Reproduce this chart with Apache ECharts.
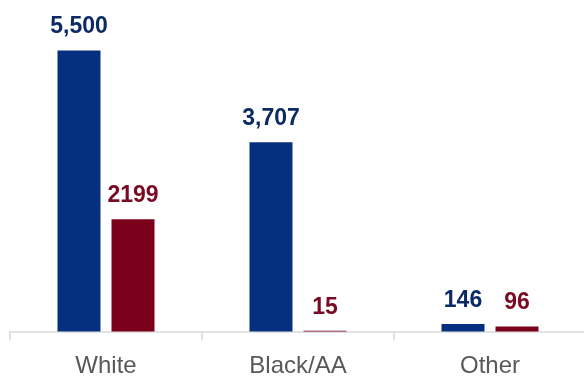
<!DOCTYPE html>
<html><head><meta charset="utf-8">
<script src="https://cdn.jsdelivr.net/npm/echarts@6/dist/echarts.min.js"></script>
<style>html,body{margin:0;padding:0;background:#fff}#c{width:584px;height:377px}</style>
</head><body><div id="c"></div>
<script>
const categories = ['White', 'Black/AA', 'Other'];
const seriesA = [5500, 3707, 146];
const seriesB = [2199, 15, 96];
const labelsA = ['5,500', '3,707', '146'];
const labelsB = ['2199', '15', '96'];

const chart = echarts.init(document.getElementById('c'), null, {renderer: 'canvas'});
const labelFont = {fontFamily: 'Liberation Sans, Arial, sans-serif', fontWeight: 'bold', fontSize: 23};
chart.setOption({
  animation: false,
  grid: {left: 10, right: -2, top: 25, bottom: 45.5, containLabel: false, outerBoundsMode: 'none'},
  xAxis: {
    type: 'category', data: categories,
    axisLine: {lineStyle: {color: '#d9d9d9', width: 1.5}},
    axisTick: {show: true, length: 9, lineStyle: {color: '#d9d9d9', width: 1.5}},
    axisLabel: {color: '#595959', fontSize: 24, fontFamily: 'Liberation Sans, Arial, sans-serif', margin: 23}
  },
  yAxis: {type: 'value', min: 0, max: 6000, show: false, splitLine: {show: false}},
  series: [
    {type: 'bar', data: seriesA, barWidth: 43, barGap: '25.6%',
     itemStyle: {color: '#06307f'},
     label: Object.assign({show: true, position: 'top', distance: 12, color: '#0b2a66',
       formatter: p => labelsA[p.dataIndex]}, labelFont)},
    {type: 'bar', data: seriesB, barWidth: 43,
     itemStyle: {color: '#7b001c'},
     label: Object.assign({show: true, position: 'top', distance: 12, color: '#7a0a24',
       formatter: p => labelsB[p.dataIndex]}, labelFont)}
  ]
});
</script></body></html>
